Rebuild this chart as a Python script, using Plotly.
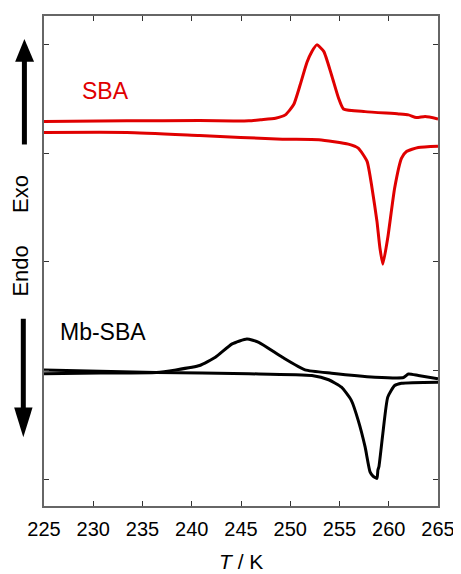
import plotly.graph_objects as go

# ---------------- data ----------------
sba_cool_T = [225, 233.4, 240.8, 245.8, 247.0, 248.5, 249.5, 250.35, 251.0, 251.7, 252.2, 252.7,
              253.4, 254.2, 254.9, 255.4, 257.6, 261.0, 262.0, 262.8, 263.7, 265]
sba_cool_v = [3.294, 3.30, 3.303, 3.30, 3.31, 3.324, 3.355, 3.45, 3.63, 3.84, 3.94, 4.0,
              3.94, 3.72, 3.51, 3.41, 3.385, 3.364, 3.355, 3.33, 3.34, 3.318]

sba_heat_T = [225, 233.4, 240.8, 249.2, 252.9, 255.9, 256.9, 257.8, 258.3, 258.8, 259.1, 259.4,
              259.9, 260.6, 261.3, 261.8, 263.0, 265]
sba_heat_v = [3.193, 3.193, 3.165, 3.131, 3.126, 3.086, 3.049, 2.927, 2.682, 2.376, 2.131, 1.979,
              2.223, 2.682, 2.957, 3.018, 3.055, 3.067]

mb_cool_T = [225, 230.7, 236.4, 238.4, 240.8, 242.4, 244.1, 245.6, 246.8, 249.2, 251.5, 254.2,
             258.6, 261.5, 262.0, 263.0, 265]
mb_cool_v = [0.970, 0.977, 0.982, 1.006, 1.046, 1.122, 1.245, 1.291, 1.260, 1.122, 1.006, 0.975,
             0.939, 0.936, 0.968, 0.954, 0.924]

mb_heat_T = [225, 236.4, 245.8, 252.2, 253.9, 255.2, 256.2, 256.9, 257.6, 258.1, 258.4, 258.8,
             258.9, 259.0, 259.4, 259.9, 260.6, 261.3, 265]
mb_heat_v = [1.004, 0.982, 0.970, 0.954, 0.915, 0.847, 0.725, 0.541, 0.296, 0.067, 0.028, 0.006,
             0.083, 0.113, 0.419, 0.755, 0.862, 0.883, 0.893]

x_ticks = [225, 230, 235, 240, 245, 250, 255, 260, 265]
y_ticks = [0, 1, 2, 3, 4]

RED = "#e00000"
FONT = "Arial, Liberation Sans, sans-serif"

# ---------------- figure ----------------
OFF = 8                      # page body margin
W, H = 461 - OFF, 574 - OFF
L, R, T, B = 44 - OFF, 21, 14 - OFF, 68
PW, PH = W - L - R, H - T - B


def px(x):  # window pixel -> paper
    return (x - OFF - L) / PW


def py(y):
    return (H - B - (y - OFF)) / PH


fig = go.Figure()
for xs, ys, c in [(sba_cool_T, sba_cool_v, RED), (sba_heat_T, sba_heat_v, RED),
                  (mb_cool_T, mb_cool_v, "black"), (mb_heat_T, mb_heat_v, "black")]:
    fig.add_trace(go.Scatter(x=xs, y=ys, mode="lines", line=dict(color=c, width=3, shape="spline", smoothing=0.5),
                             showlegend=False, hoverinfo="skip"))

axis_common = dict(showline=True, linecolor="#666666", linewidth=1.5, mirror="allticks",
                   ticks="inside", ticklen=5, tickwidth=1.2, tickcolor="#333333",
                   showgrid=False, zeroline=False)

fig.update_xaxes(range=[225, 265], tickvals=x_ticks, ticktext=[str(v) for v in x_ticks],
                 tickfont=dict(family=FONT, size=20, color="black"), ticklabelstandoff=4, **axis_common)
fig.update_yaxes(range=[-0.248, 4.266], tickvals=y_ticks, showticklabels=False, **axis_common)

shapes = []
# up arrow
shapes.append(dict(type="line", xref="paper", yref="paper", x0=px(24.3), x1=px(24.3), y0=py(143), y1=py(58),
                   line=dict(color="black", width=5)))
shapes.append(dict(type="path", xref="paper", yref="paper",
                   path=f"M {px(15)} {py(60)} L {px(34)} {py(60)} L {px(24.3)} {py(37)} Z",
                   fillcolor="black", line=dict(color="black", width=0)))
# down arrow
shapes.append(dict(type="line", xref="paper", yref="paper", x0=px(23.2), x1=px(23.2), y0=py(318), y1=py(409),
                   line=dict(color="black", width=5)))
shapes.append(dict(type="path", xref="paper", yref="paper",
                   path=f"M {px(14)} {py(407)} L {px(32.5)} {py(407)} L {px(23.2)} {py(437)} Z",
                   fillcolor="black", line=dict(color="black", width=0)))
fig.update_layout(shapes=shapes)

ann = [
    dict(text="SBA", x=px(106), y=py(89), font=dict(family=FONT, size=23, color=RED)),
    dict(text="Mb-SBA", x=px(103.5), y=py(331), font=dict(family=FONT, size=23, color="black")),
    dict(text="Exo", x=px(20.5), y=py(193), textangle=-90, font=dict(family=FONT, size=22, color="black")),
    dict(text="Endo", x=px(20.5), y=py(270), textangle=-90, font=dict(family=FONT, size=22, color="black")),
    dict(text="<i>T</i> / K", x=px(242), y=py(562), font=dict(family=FONT, size=21, color="black")),
]
for a in ann:
    a.update(xref="paper", yref="paper", showarrow=False, xanchor="center", yanchor="middle")
fig.update_layout(annotations=ann)

fig.update_layout(width=W, height=H, margin=dict(l=L, r=R, t=T, b=B),
                  plot_bgcolor="white", paper_bgcolor="white")

fig.write_html("out.html")
